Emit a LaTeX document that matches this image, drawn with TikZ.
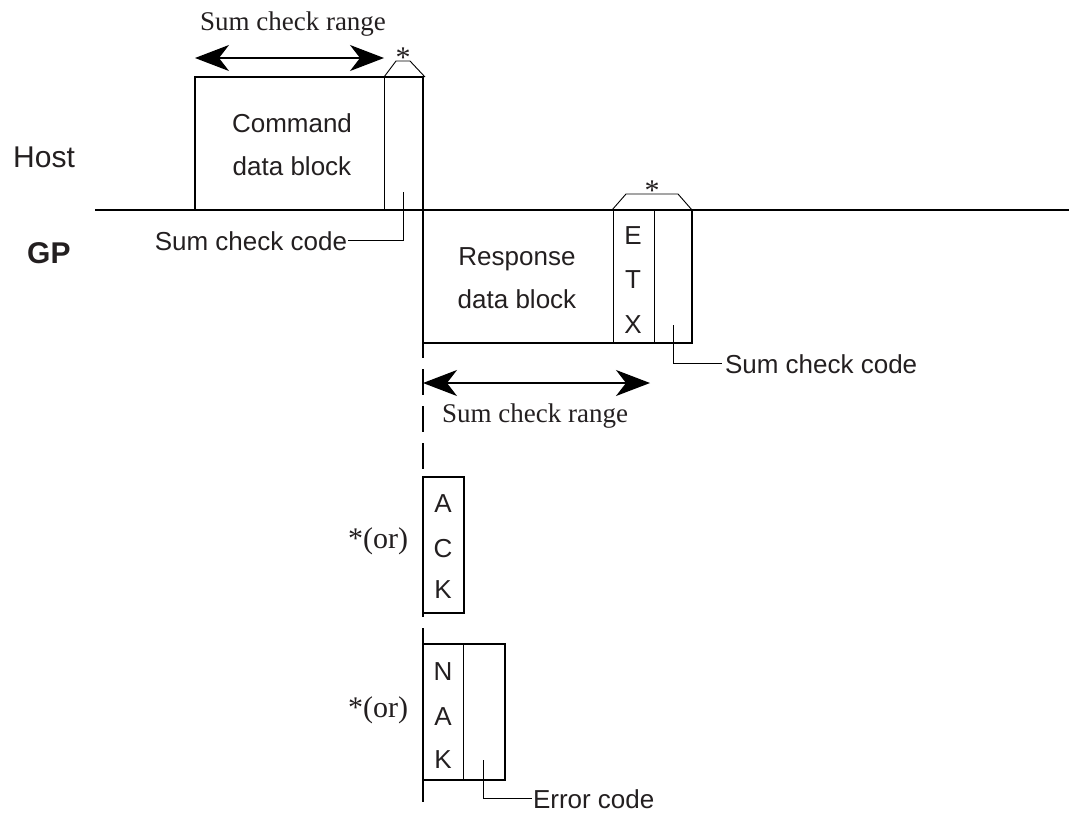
\documentclass[tikz,border=0pt]{standalone}
\usepackage{fontspec}
\setmainfont{Liberation Sans}
\newfontfamily\serifface{Liberation Serif}
\usetikzlibrary{arrows.meta}
\definecolor{ink}{HTML}{231F20}
\begin{document}
\begin{tikzpicture}[x=1pt,y=-1pt,
  thickline/.style={line width=2.6pt},
  thinline/.style={line width=0.9pt},
  sans/.style={font=\fontsize{26}{30}\selectfont, text=ink, inner sep=0pt, outer sep=0pt},
  serif/.style={font=\serifface\fontsize{27}{31}\selectfont, text=ink, inner sep=0pt, outer sep=0pt},
  orlabel/.style={font=\serifface\fontsize{30}{34}\selectfont, text=ink, inner sep=0pt, outer sep=0pt},
  star/.style={font=\serifface\fontsize{30}{34}\selectfont, text=ink, inner sep=0pt},
  rangearrow/.style={line width=1.3pt,
     {Stealth[length=34pt,width=26pt,inset=10pt]}-{Stealth[length=34pt,width=26pt,inset=10pt]}},
  leader/.style={line width=1pt}]
\useasboundingbox (0,0) rectangle (1069,815);

% labels of the two lines
\node[font=\fontsize{30}{34}\selectfont, text=ink, inner sep=0pt, anchor=base west] (host) at (13,167) {Host};
\node[font=\bfseries\fontsize{30}{34}\selectfont, text=ink, inner sep=0pt, anchor=base west] (gp) at (27,263) {GP};

% base line
\draw[thickline] (95,210) -- (1069,210);

% command data block
\draw[thickline] (195,210) -- (195,77) -- (423,77) -- (423,210);
\draw[thinline] (384,77) -- (384,210);
\node[sans, anchor=base] (cmd1) at (292,132) {Command};
\node[sans, anchor=base] (cmd2) at (292,175) {data block};
\draw[thinline] (384,77) -- (396,61) -- (410,61) -- (425,77);
\node[star, anchor=base] (st1) at (403,67) {*};
\coordinate (ra1) at (195,58);
\coordinate (rb1) at (384,58);
\draw[rangearrow] (ra1) -- (rb1);
\node[serif, anchor=base] (rng1) at (293,30) {Sum check range};
\coordinate (scc1p) at (403,192);
\node[sans, anchor=base east] (scc1) at (347,250) {Sum check code};
\draw[leader] (scc1p) |- ([xshift=1pt]scc1.east);

% response data block
\draw[thickline] (423,210) rectangle (692,343);
\draw[thinline] (613,210) -- (613,343);
\draw[thinline] (654,210) -- (654,343);
\node[sans, anchor=base] (rsp1) at (517,265) {Response};
\node[sans, anchor=base] (rsp2) at (517,308) {data block};
\node[sans, anchor=base] (etxE) at (633,244) {E};
\node[sans, anchor=base] (etxT) at (633,288) {T};
\node[sans, anchor=base] (etxX) at (633,333) {X};
\draw[thinline] (612,210) -- (626,194) -- (678,194) -- (692,210);
\node[star, anchor=base] (st2) at (652,200) {*};
\coordinate (scc2p) at (673,325);
\node[sans, anchor=base west] (scc2) at (725,373) {Sum check code};
\draw[leader] (scc2p) |- ([xshift=-3pt]scc2.west);
\coordinate (ra2) at (423,383);
\coordinate (rb2) at (650,383);
\draw[rangearrow] (ra2) -- (rb2);
\node[serif, anchor=base] (rng2) at (535,422) {Sum check range};

% dashed time line
\coordinate (dtop) at (423,343);
\coordinate (dbot) at (423,808);
\draw[thickline, dash pattern=on 26pt off 11pt, dash phase=11pt] (dtop) -- (dbot);

% ACK
\draw[thickline, fill=white] (423,477) rectangle (464,613);
\node[sans, anchor=base] (ackA) at (443,512) {A};
\node[sans, anchor=base] (ackC) at (443,557) {C};
\node[sans, anchor=base] (ackK) at (443,598) {K};
\node[orlabel, anchor=base east] (or1) at (408,548) {*(or)};

% NAK
\draw[thickline, fill=white] (423,644) rectangle (505,780);
\draw[thinline] (463,644) -- (463,780);
\node[sans, anchor=base] (nakN) at (443,680) {N};
\node[sans, anchor=base] (nakA) at (443,725) {A};
\node[sans, anchor=base] (nakK) at (443,768) {K};
\node[orlabel, anchor=base east] (or2) at (408,717) {*(or)};
\coordinate (errp) at (483,760);
\node[sans, anchor=base west] (err) at (533,808) {Error code};
\draw[leader] (errp) |- ([xshift=-1pt]err.west);
\end{tikzpicture}
\end{document}
